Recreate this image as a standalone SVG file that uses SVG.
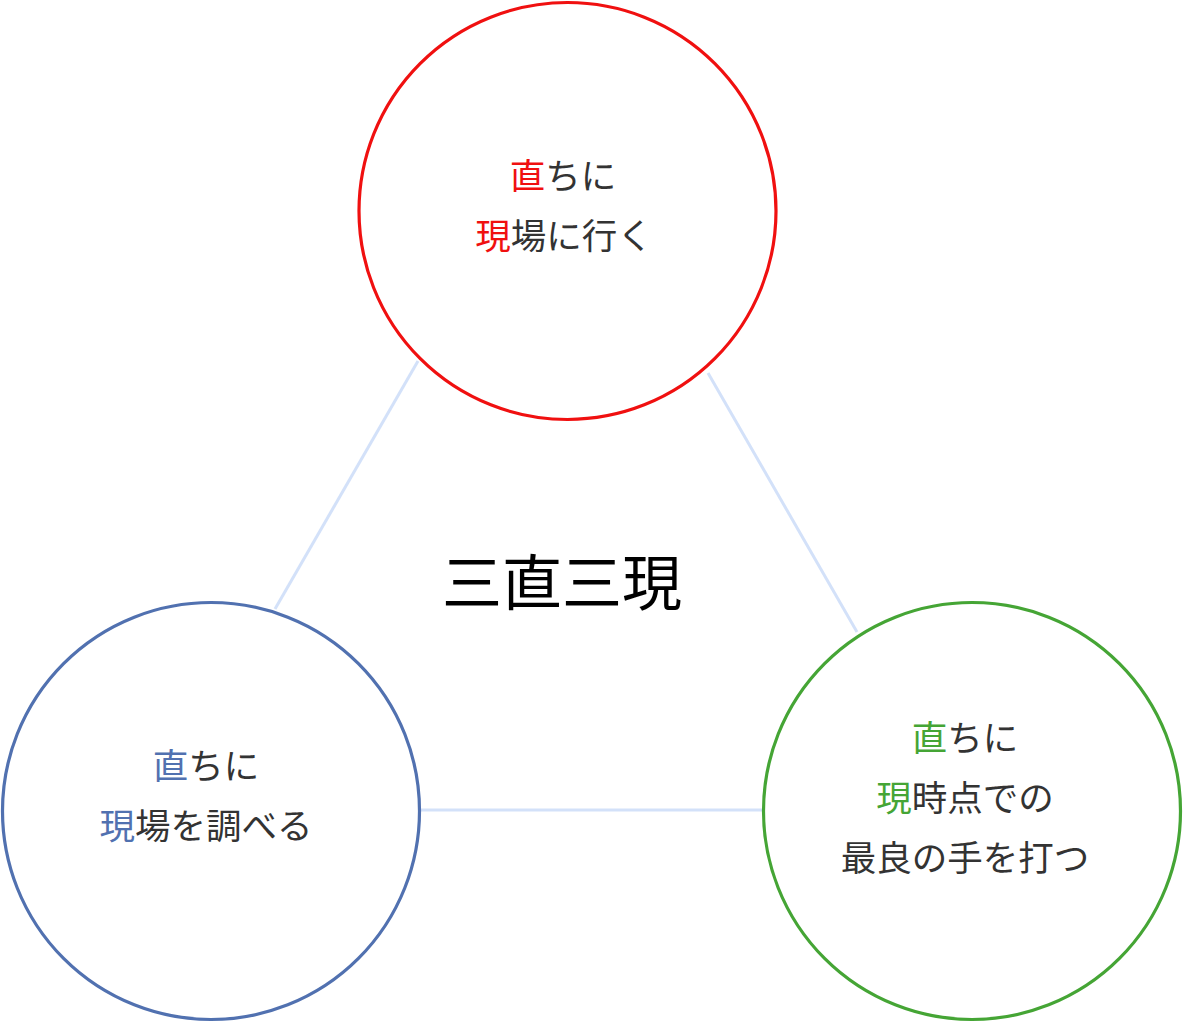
<svg xmlns="http://www.w3.org/2000/svg" width="1184" height="1023" viewBox="0 0 1184 1023">
<style>
.node{fill:#ffffff;stroke-width:3.2}
.lbl{font-family:"Noto Sans CJK JP","Noto Sans",sans-serif;font-size:35.5px;fill:#333333;text-anchor:middle}
.title{font-family:"Noto Sans CJK JP","Noto Sans",sans-serif;font-size:60px;fill:#000000;text-anchor:middle}
.conn{stroke:#d3e1f9;stroke-width:3;fill:none}
</style>
<rect width="1184" height="1023" fill="#ffffff"/>
<g id="connectors">
<line class="conn" x1="418" y1="361" x2="275" y2="609"/>
<line class="conn" x1="708" y1="373" x2="857" y2="632"/>
<line class="conn" x1="421" y1="810" x2="763" y2="810"/>
</g>
<g id="title">
<text class="title" x="562" y="605">三直三現</text>
</g>
<g id="node-go">
<circle class="node" cx="567.5" cy="211" r="208.5" stroke="#f01010"/>
<text class="lbl" x="563" y="189"><tspan fill="#f01010">直</tspan>ちに</text>
<text class="lbl" x="564" y="249"><tspan fill="#f01010">現</tspan>場に行く</text>
</g>
<g id="node-investigate">
<circle class="node" cx="211" cy="811" r="208.5" stroke="#5171b0"/>
<text class="lbl" x="206" y="779"><tspan fill="#5171b0">直</tspan>ちに</text>
<text class="lbl" x="206" y="839"><tspan fill="#5171b0">現</tspan>場を調べる</text>
</g>
<g id="node-act">
<circle class="node" cx="972" cy="811" r="208.5" stroke="#45a535"/>
<text class="lbl" x="965" y="751"><tspan fill="#45a535">直</tspan>ちに</text>
<text class="lbl" x="965" y="811"><tspan fill="#45a535">現</tspan>時点での</text>
<text class="lbl" x="965" y="871">最良の手を打つ</text>
</g>
</svg>
